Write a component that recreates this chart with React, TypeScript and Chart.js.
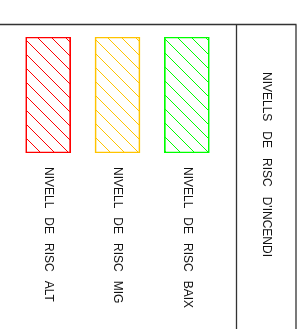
import React, { useEffect, useRef } from 'react';
import { Chart, registerables } from 'chart.js';

Chart.register(...registerables);

const categories: string[] = ['NIVELL DE RISC ALT', 'NIVELL DE RISC MIG', 'NIVELL DE RISC BAIX'];
const levelValues: number[] = [1, 1, 1];
const levelColors: string[] = ['#ff0000', '#ffc400', '#00ff00'];
const titleText = "NIVELLS DE RISC D'INCENDI";

function makeHatch(color: string): CanvasPattern | string {
  const s = 14;
  const c = document.createElement('canvas');
  c.width = s;
  c.height = s;
  const g = c.getContext('2d');
  if (!g) return color;
  g.strokeStyle = color;
  g.lineWidth = 1;
  g.beginPath();
  g.moveTo(-2, -2);
  g.lineTo(s + 2, s + 2);
  g.moveTo(-2, s - 2);
  g.lineTo(2, s + 2);
  g.moveTo(s - 2, -2);
  g.lineTo(s + 2, 2);
  g.stroke();
  const p = g.createPattern(c, 'repeat');
  return p || color;
}

function drawVertical(ctx: CanvasRenderingContext2D, text: string, x: number, y: number, gap: number) {
  ctx.save();
  ctx.translate(x, y);
  ctx.rotate(Math.PI / 2);
  ctx.textAlign = 'left';
  ctx.textBaseline = 'middle';
  let pos = 0;
  text.split(' ').forEach((w) => {
    ctx.fillText(w, pos, 0);
    pos += ctx.measureText(w).width + gap;
  });
  ctx.restore();
}

const decorPlugin = {
  id: 'decor',
  afterDatasetsDraw(chart: any) {
    const ctx: CanvasRenderingContext2D = chart.ctx;
    ctx.save();
    ctx.strokeStyle = '#333333';
    ctx.lineWidth = 1.3;
    ctx.beginPath();
    ctx.moveTo(0, 24.5);
    ctx.lineTo(296.5, 24.5);
    ctx.moveTo(236.5, 24.5);
    ctx.lineTo(236.5, 329);
    ctx.moveTo(296, 24.5);
    ctx.lineTo(296, 329);
    ctx.stroke();

    ctx.font = '12px "Liberation Sans", Arial, sans-serif';
    ctx.fillStyle = '#111';
    const meta = chart.getDatasetMeta(0);
    meta.data.forEach((bar: any, i: number) => {
      drawVertical(ctx, categories[i], bar.x, bar.base + 14, 9);
    });
    drawVertical(ctx, titleText, 266, 72, 10);
    ctx.restore();
  },
};

export default function App() {
  const ref = useRef<HTMLCanvasElement | null>(null);

  useEffect(() => {
    document.body.style.margin = '0';
    const canvas = ref.current;
    if (!canvas) return;
    const chart = new Chart(canvas, {
      type: 'bar',
      data: {
        labels: categories,
        datasets: [
          {
            data: levelValues,
            backgroundColor: levelColors.map(makeHatch) as any,
            borderColor: levelColors,
            borderWidth: 1,
            borderSkipped: false,
            barThickness: 45,
          },
        ],
      },
      options: {
        animation: false,
        responsive: false,
        devicePixelRatio: 1,
        layout: { padding: { left: 13.5, right: 84.5, top: 37, bottom: 176 } },
        plugins: { legend: { display: false }, tooltip: { enabled: false } },
        scales: {
          x: { display: false, offset: true },
          y: { display: false, min: 0, max: 1 },
        },
      },
      plugins: [decorPlugin],
    });
    return () => chart.destroy();
  }, []);

  return (
    <div style={{ position: 'absolute', left: 0, top: 0, width: 306, height: 329, background: '#fff' }}>
      <canvas ref={ref} width={306} height={329} />
    </div>
  );
}
